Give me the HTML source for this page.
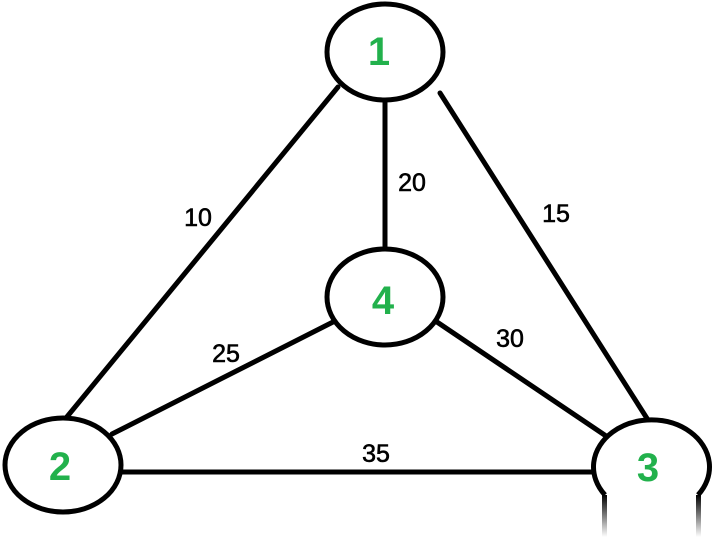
<!DOCTYPE html>
<html><head><style>
html,body{margin:0;padding:0;background:#fff;}
svg{display:block;}
text{font-family:"Liberation Sans",Arial,sans-serif;}
</style></head><body>
<svg width="720" height="541" viewBox="0 0 720 541" xmlns="http://www.w3.org/2000/svg">
<defs>
<linearGradient id="fd" x1="0" y1="0" x2="0" y2="1">
<stop offset="0" stop-color="#000"/><stop offset="1" stop-color="#000" stop-opacity="0"/>
</linearGradient>
</defs>
<rect width="720" height="541" fill="#fff"/>
<g stroke="#000" stroke-width="5" fill="none" stroke-linecap="round">
<line x1="338" y1="87" x2="66" y2="418"/>
<line x1="440" y1="93" x2="648" y2="420"/>
<line x1="385" y1="100" x2="385" y2="248"/>
<line x1="333" y1="322" x2="112" y2="434"/>
<line x1="437" y1="322" x2="612" y2="440"/>
<line x1="122" y1="472" x2="594" y2="472"/>
</g>
<g stroke="#000" stroke-width="5" fill="#fff">
<ellipse cx="385" cy="52" rx="58" ry="48"/>
<ellipse cx="385" cy="297" rx="58" ry="48"/>
<ellipse cx="63" cy="465" rx="58" ry="47"/>
<path d="M605 495 A58 47 0 1 1 698 495" fill="#fff"/>
</g>
<rect x="602" y="495" width="5" height="42" fill="url(#fd)"/>
<rect x="696" y="495" width="5" height="42" fill="url(#fd)"/>
<g fill="#22b14c" font-weight="bold" font-size="40" text-anchor="middle">
<text x="379" y="65">1</text>
<text x="383" y="314">4</text>
<text x="60" y="480">2</text>
<text x="648" y="481">3</text>
</g>
<g fill="#000" font-size="25" text-anchor="middle" stroke="#000" stroke-width="0.6">
<text x="198" y="226">10</text>
<text x="412" y="191">20</text>
<text x="556" y="222">15</text>
<text x="226" y="362">25</text>
<text x="510" y="347">30</text>
<text x="376" y="462">35</text>
</g>
</svg>
</body></html>
